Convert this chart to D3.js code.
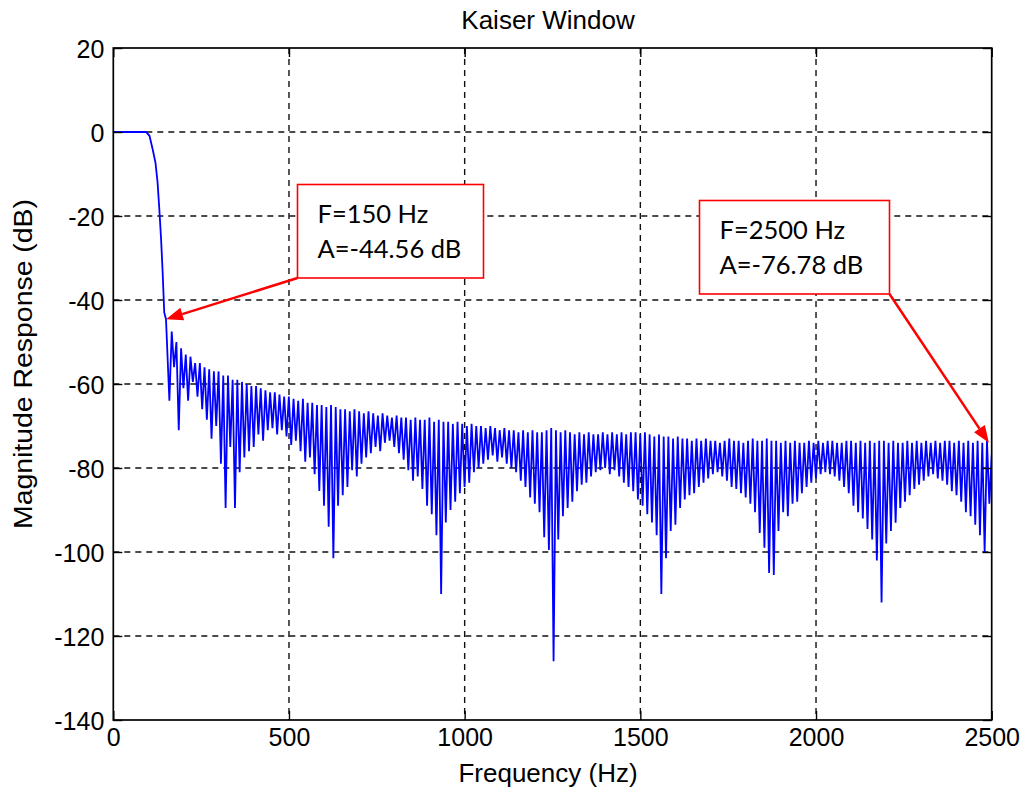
<!DOCTYPE html>
<html>
<head>
<meta charset="utf-8">
<title>Kaiser Window</title>
<script src="https://d3js.org/d3.v7.min.js"></script>
<style>
  body { margin: 0; background: #fff; }
  svg text { font-family: "Liberation Sans", Arial, Helvetica, sans-serif; fill: #000; }
  .note text { font-family: Lato, "Open Sans", sans-serif; }
</style>
</head>
<body>
<script>
  // passband and transition band (Hz, dB)
  const mainLobeFreq = [0, 50, 93, 103, 112, 120, 126, 131, 136, 140.5, 145, 150];
  const mainLobeDb = [0, 0, 0, -0.9, -4.1, -7.3, -12.0, -18.4, -25.5, -33.5, -43.0, -44.56];

  // stopband: one null sample per sidelobe, first one at 159.6 Hz, spaced 13.335 Hz
  const nullStartHz = 159.6;
  const nullStepHz = 13.335;
  const nullDb = [
    -64, -56, -71, -61, -64, -59.5, -63, -66, -68.5, -73,
    -70, -79, -89.5, -75, -89.5, -81, -77.5, -76, -75, -72,
    -73.5, -71, -70.5, -72, -71, -72.5, -74.5, -73.5, -76, -78.5,
    -77.5, -81.5, -85.5, -89, -94, -101.5, -89, -86.5, -84.5, -80.5,
    -82, -79, -77.5, -76.5, -75, -76, -74, -73.5, -75, -76.5,
    -78, -80.5, -83, -82, -85, -89, -91, -96, -110, -93,
    -90, -88, -86, -84.5, -83.5, -81, -80, -79, -78, -77,
    -78.5, -77.5, -79, -80, -81, -83, -84.5, -87, -88.5, -90.5,
    -96.5, -99.5, -126, -97, -91.5, -89.5, -88, -85.5, -84, -83.5,
    -82, -81, -80.5, -80, -81.5, -80.5, -82, -83.5, -84.5, -85.5,
    -87.5, -89, -91, -93, -96, -110, -101.5, -95, -93.5, -89.5,
    -87.5, -86.5, -86, -84.5, -83.5, -82.5, -81.5, -81, -82, -83,
    -84.5, -85, -86, -87, -88.5, -90.5, -95.5, -99, -105, -105.5,
    -95, -90.5, -91.5, -88.5, -88, -86, -84.5, -83.5, -82.5, -81.5,
    -81, -81.5, -82, -83, -84.5, -86, -89, -90.5, -92, -94.5,
    -97, -102, -112, -98, -95, -93, -89.5, -88, -86.5, -85,
    -84, -83, -82, -81.5, -82.5, -83, -84, -85.5, -86.5, -88,
    -90.5, -91.5, -93.5, -96, -100, -88.5
  ];
  // sidelobe tops, half a step after each null
  const peakDb = [
    -47.5, -50, -51.5, -53, -53.5, -55, -55, -56, -56.5, -57,
    -57, -58, -58, -59, -59, -59.5, -60, -60.5, -60.5, -61,
    -61.5, -62, -62, -62.5, -63, -63, -63.5, -64, -63.5, -64.5,
    -64.5, -65, -65, -65.5, -65, -65.5, -66, -66, -66.5, -66,
    -66.5, -67, -66.5, -67, -67.5, -67, -67.5, -68, -67.5, -68,
    -68, -68.5, -68, -68.5, -68.5, -68, -69, -68.5, -69, -69,
    -69.5, -69, -69.5, -70, -69.5, -70, -70, -70.5, -70, -70.5,
    -71, -70.5, -71, -71, -71.5, -71, -71.5, -71, -71.5, -71.5,
    -71, -70.5, -71, -71.5, -71, -71.5, -72, -71.5, -72, -71.5,
    -72, -72, -71.5, -72, -71.5, -72, -71.5, -72, -71.5, -71.5,
    -72, -71.5, -72, -72.5, -72, -72.5, -72.5, -73, -72.5, -73,
    -73, -73.5, -73, -73.5, -73, -73.5, -73.5, -74, -73.5, -73,
    -73.5, -73.5, -74, -73.5, -73, -73.5, -73.5, -73, -73.5, -73.5,
    -74, -73.5, -74, -73.5, -74, -74, -73.5, -74, -73.5, -74,
    -73.5, -73.5, -74, -74, -73.5, -73.5, -74, -73.5, -74, -73.5,
    -74, -73.5, -73.5, -74, -73.5, -74, -74, -73.5, -74, -73.5,
    -74, -73.5, -74, -73.5, -74, -73.5, -73.5, -74, -73.5, -74,
    -73.5, -74, -73.5, -74, -73.5
  ];
  const endFreq = 2500;
  const endDb = -76.78;

  const xTicks = [0, 500, 1000, 1500, 2000, 2500];
  const yTicks = [20, 0, -20, -40, -60, -80, -100, -120, -140];

  const noteLines = [["F=150 Hz", "A=-44.56 dB"], ["F=2500 Hz", "A=-76.78 dB"]];
  const noteTargetHz = [150, 2492];
  const noteTargetDb = [-44.56, -74];

  const width = 1027, height = 793;
  const plot = { left: 113.3, right: 991.7, top: 48, bottom: 720 };

  const svg = d3.select("body").append("svg")
    .attr("width", width).attr("height", height)
    .style("display", "block");

  const x = d3.scaleLinear().domain([0, 2500]).range([plot.left, plot.right]);
  const y = d3.scaleLinear().domain([-140, 20]).range([plot.bottom, plot.top]);

  // build the plotted samples
  const pts = mainLobeFreq.map((f, i) => [f, mainLobeDb[i]]);
  nullDb.forEach((v, i) => {
    const f = nullStartHz + i * nullStepHz;
    pts.push([f, v]);
    if (i < peakDb.length) pts.push([f + nullStepHz / 2, peakDb[i]]);
  });
  pts.push([endFreq, endDb]);

  // grid
  const grid = svg.append("g")
    .attr("stroke", "#111").attr("stroke-width", 1.4).attr("stroke-dasharray", "6,5");
  grid.selectAll(".gx").data(xTicks.filter(t => t > 0 && t < 2500)).enter()
    .append("line")
    .attr("x1", d => x(d)).attr("x2", d => x(d))
    .attr("y1", plot.top).attr("y2", plot.bottom);
  grid.selectAll(".gy").data(yTicks.filter(t => t > -140 && t < 20)).enter()
    .append("line")
    .attr("y1", d => y(d)).attr("y2", d => y(d))
    .attr("x1", plot.left).attr("x2", plot.right);

  svg.append("defs").append("clipPath").attr("id", "clip")
    .append("rect")
    .attr("x", plot.left).attr("y", plot.top)
    .attr("width", plot.right - plot.left).attr("height", plot.bottom - plot.top);

  svg.append("path")
    .datum(pts)
    .attr("clip-path", "url(#clip)")
    .attr("fill", "none")
    .attr("stroke", "#0000ff")
    .attr("stroke-width", 1.8)
    .attr("stroke-linejoin", "miter")
    .attr("d", d3.line().x(d => x(d[0])).y(d => y(d[1])));

  // axes: ticks inside, labels outside (matlab style)
  const tickLen = 9;
  const fmt = d => String(d);
  const gxB = svg.append("g").attr("transform", `translate(0,${plot.bottom})`)
    .call(d3.axisBottom(x).tickValues(xTicks).tickSize(-tickLen).tickPadding(8).tickFormat(fmt));
  const gxT = svg.append("g").attr("transform", `translate(0,${plot.top})`)
    .call(d3.axisTop(x).tickValues(xTicks).tickSize(-tickLen).tickFormat(""));
  const gyL = svg.append("g").attr("transform", `translate(${plot.left},0)`)
    .call(d3.axisLeft(y).tickValues(yTicks).tickSize(-tickLen).tickPadding(9).tickFormat(fmt));
  const gyR = svg.append("g").attr("transform", `translate(${plot.right},0)`)
    .call(d3.axisRight(y).tickValues(yTicks).tickSize(-tickLen).tickFormat(""));
  [gxB, gxT, gyL, gyR].forEach(g => {
    g.select(".domain").remove();
    g.selectAll("line").attr("stroke", "#000").attr("stroke-width", 1.4);
    g.selectAll("text").attr("font-size", 25).attr("fill", "#000")
      .style("font-family", '"Liberation Sans", Arial, sans-serif');
  });
  gyL.selectAll("text").attr("dy", "0.36em");

  svg.append("rect")
    .attr("x", plot.left).attr("y", plot.top)
    .attr("width", plot.right - plot.left).attr("height", plot.bottom - plot.top)
    .attr("fill", "none").attr("stroke", "#000").attr("stroke-width", 1.7);

  // titles
  svg.append("text").attr("x", 548).attr("y", 29).attr("text-anchor", "middle")
    .attr("font-size", 26).text("Kaiser Window");
  svg.append("text").attr("x", 548).attr("y", 782).attr("text-anchor", "middle")
    .attr("font-size", 26).text("Frequency (Hz)");
  svg.append("text").attr("transform", "translate(32,364) rotate(-90)")
    .attr("text-anchor", "middle").attr("font-size", 26)
    .attr("textLength", 330).attr("lengthAdjust", "spacingAndGlyphs")
    .text("Magnitude Response (dB)");

  // annotations
  const boxes = [
    { x0: 297.5, y0: 184.5, x1: 483.5, y1: 278, ax: 297.5, ay: 278 },
    { x0: 699.5, y0: 200.5, x1: 889.5, y1: 294, ax: 889.5, ay: 294 }
  ];
  const notes = svg.append("g").attr("class", "note");
  boxes.forEach((b, i) => {
    const tx = x(noteTargetHz[i]), ty = y(noteTargetDb[i]);
    const ang = Math.atan2(ty - b.ay, tx - b.ax);
    const headLen = 17, headW = 6.5;
    const bx = tx - headLen * Math.cos(ang), by = ty - headLen * Math.sin(ang);
    notes.append("line")
      .attr("x1", b.ax).attr("y1", b.ay).attr("x2", bx).attr("y2", by)
      .attr("stroke", "#ff0000").attr("stroke-width", 2.5);
    notes.append("polygon")
      .attr("points", [
        [tx, ty],
        [bx + headW * Math.sin(ang), by - headW * Math.cos(ang)],
        [bx - headW * Math.sin(ang), by + headW * Math.cos(ang)]
      ].map(p => p.join(",")).join(" "))
      .attr("fill", "#ff0000");
    notes.append("rect")
      .attr("x", b.x0).attr("y", b.y0)
      .attr("width", b.x1 - b.x0).attr("height", b.y1 - b.y0)
      .attr("fill", "#fff").attr("stroke", "#ff0000").attr("stroke-width", 1.6);
    noteLines[i].forEach((s, k) => {
      notes.append("text")
        .attr("x", b.x0 + 20).attr("y", b.y0 + 38 + k * 35.5)
        .attr("font-size", 25.5).text(s);
    });
  });
</script>
</body>
</html>
